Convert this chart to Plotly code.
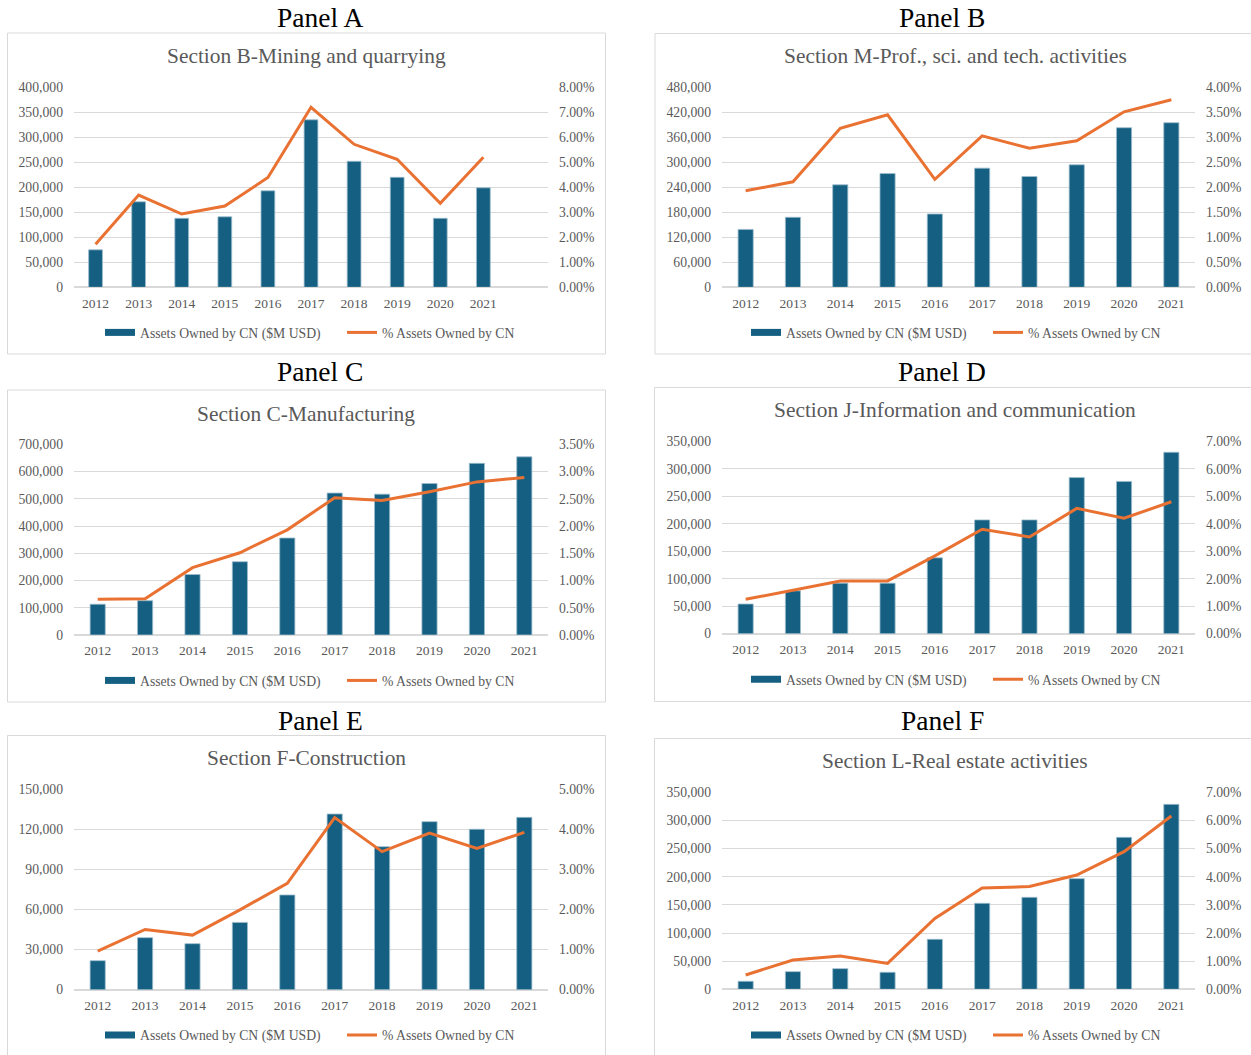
import plotly.graph_objects as go

W, H = 1251, 1055

# ---------------- data ----------------
years = [2012, 2013, 2014, 2015, 2016, 2017, 2018, 2019, 2020, 2021]

panel_labels = ["Panel A", "Panel B", "Panel C", "Panel D", "Panel E", "Panel F"]
chart_titles = [
    "Section B-Mining and quarrying",
    "Section M-Prof., sci. and tech. activities",
    "Section C-Manufacturing",
    "Section J-Information and communication",
    "Section F-Construction",
    "Section L-Real estate activities",
]
bar_name = "Assets Owned by CN ($M USD)"
line_name = "% Assets Owned by CN"

mining_assets = [75000, 171000, 138000, 141000, 193000, 335000, 252000, 220000, 138000, 199000]
mining_pct = [0.0172, 0.0369, 0.0293, 0.0325, 0.0439, 0.0720, 0.0572, 0.0512, 0.0336, 0.0520]

prof_assets = [139000, 168000, 246000, 273000, 176000, 286000, 266000, 294000, 383000, 395000]
prof_pct = [0.0193, 0.0211, 0.0318, 0.0345, 0.0216, 0.0303, 0.0278, 0.0293, 0.0351, 0.0375]

manuf_assets = [113000, 126000, 222000, 269000, 356000, 521000, 517000, 556000, 630000, 654000]
manuf_pct = [0.00655, 0.00667, 0.01236, 0.0151, 0.0193, 0.0252, 0.0247, 0.0263, 0.0281, 0.0289]

info_assets = [54000, 78000, 92000, 92000, 138000, 207000, 207000, 284000, 277000, 330000]
info_pct = [0.0125, 0.0159, 0.0192, 0.0192, 0.0283, 0.0380, 0.0352, 0.0456, 0.0420, 0.0480]

constr_assets = [21700, 38900, 34400, 50300, 70800, 131300, 106900, 125600, 119900, 128800]
constr_pct = [0.0096, 0.0150, 0.0136, 0.0199, 0.0265, 0.0429, 0.0344, 0.0390, 0.0352, 0.0392]

realest_assets = [14200, 31400, 36700, 30200, 88800, 152800, 163400, 196600, 270000, 328600]
realest_pct = [0.0051, 0.0104, 0.0118, 0.0092, 0.0252, 0.0360, 0.0365, 0.0406, 0.0489, 0.0616]

assets_series = [mining_assets, prof_assets, manuf_assets, info_assets, constr_assets, realest_assets]
pct_series = [mining_pct, prof_pct, manuf_pct, info_pct, constr_pct, realest_pct]

# axis ranges / tick steps (left: assets, right: percent)
left_max = [400000, 480000, 700000, 350000, 150000, 350000]
left_step = [50000, 60000, 100000, 50000, 30000, 50000]
right_max = [0.08, 0.04, 0.035, 0.07, 0.05, 0.07]
right_step = [0.01, 0.005, 0.005, 0.01, 0.01, 0.01]
x_slots_end = [2022.5, 2021.5, 2021.5, 2021.5, 2021.5, 2021.5]

# ---------------- layout geometry (pixels) ----------------
plot_px = [
    (74, 548, 87.3, 287.3),
    (722, 1195, 87.3, 287.3),
    (74, 548, 444.3, 635.0),
    (722, 1195, 441.3, 633.7),
    (74, 548, 789.0, 989.7),
    (722, 1195, 792.3, 989.3),
]
box_px = [
    (7.5, 33, 605.5, 354),
    (655, 33.5, 1258, 354),
    (7.5, 390, 605.5, 702),
    (654.5, 387.5, 1258, 701.5),
    (7.5, 735.5, 605.5, 1060),
    (654.5, 738.5, 1258, 1060),
]
panel_title_px = [(320, 17), (942, 17), (320, 371.5), (942, 371.5), (320, 720), (942, 720)]
chart_title_px = [(306, 56.5), (955, 56), (306, 414), (955, 410), (306, 757.5), (955, 761)]
legend_px = [(342, 332.5), (988, 332.5), (342, 680.5), (988, 679.3), (342, 1035), (988, 1035)]

FONT = "Liberation Serif"
GRAY = "#595959"
GRID = "#d9d9d9"
BAR_C = "#156082"
BAR_EDGE = "#9dbccd"
LINE_C = "#E97132"


def px(x):
    return x / W


def py(y):
    return 1 - y / H


fig = go.Figure()
layout = dict(
    width=W, height=H, margin=dict(l=0, r=0, t=0, b=0, autoexpand=False),
    paper_bgcolor="white", plot_bgcolor="white",
    font=dict(family=FONT, color=GRAY, size=13.5),
    showlegend=True,
)
shapes = []
annotations = []

for i in range(6):
    n = i + 1
    xa = "x" if n == 1 else f"x{n}"
    ya = f"y{2 * i + 1}" if i > 0 else "y"
    ya2 = f"y{2 * i + 2}"
    lg = "legend" if n == 1 else f"legend{n}"
    x0, x1, yt, yb = plot_px[i]

    fig.add_trace(go.Bar(
        x=years, y=assets_series[i], name=bar_name,
        marker=dict(color=BAR_C, line=dict(color=BAR_EDGE, width=0.8)),
        width=0.32, xaxis=xa, yaxis=ya, showlegend=False,
    ))
    # legend-only entry giving the wide Excel-style bar swatch
    fig.add_trace(go.Scatter(
        x=[None], y=[None], name=bar_name, mode="lines",
        line=dict(color=BAR_C, width=7), xaxis=xa, yaxis=ya, legend=lg,
    ))
    fig.add_trace(go.Scatter(
        x=years, y=pct_series[i], name=line_name, mode="lines",
        line=dict(color=LINE_C, width=3), xaxis=xa, yaxis=ya2, legend=lg,
    ))

    xkey = "xaxis" if n == 1 else f"xaxis{n}"
    ykey = "yaxis" if i == 0 else f"yaxis{2 * i + 1}"
    y2key = f"yaxis{2 * i + 2}"
    layout[xkey] = dict(
        domain=[px(x0), px(x1)], anchor=ya,
        range=[2011.5, x_slots_end[i]], tickvals=years, ticktext=[str(v) for v in years],
        showgrid=False, zeroline=False, showline=True, linecolor=GRID, linewidth=1,
        ticks="", ticklabelstandoff=3, tickfont=dict(size=13.5, color=GRAY, family=FONT),
        fixedrange=True,
    )
    layout[ykey] = dict(
        domain=[py(yb), py(yt)], anchor=xa,
        range=[0, left_max[i]], dtick=left_step[i], tick0=0, tickformat=",d",
        showgrid=True, gridcolor=GRID, gridwidth=1, zeroline=True, zerolinecolor=GRID,
        showline=False, ticks="", ticklabelstandoff=10,
        tickfont=dict(size=13.7, color=GRAY, family=FONT),
    )
    layout[y2key] = dict(
        domain=[py(yb), py(yt)], anchor=xa, overlaying=ya, side="right",
        range=[0, right_max[i]], dtick=right_step[i], tick0=0, tickformat=".2%",
        showgrid=False, zeroline=False, showline=False, ticks="", ticklabelstandoff=10,
        tickfont=dict(size=13.7, color=GRAY, family=FONT),
    )
    lx, ly = legend_px[i]
    layout[lg] = dict(
        orientation="h", x=px(lx), y=py(ly), xanchor="center", yanchor="middle",
        xref="paper", yref="paper", bgcolor="rgba(0,0,0,0)",
        font=dict(size=13.7, color=GRAY, family=FONT), entrywidth=197, entrywidthmode="pixels",
        itemwidth=30,
    )

    bx0, by0, bx1, by1 = box_px[i]
    shapes.append(dict(type="rect", xref="paper", yref="paper",
                       x0=px(bx0), x1=px(bx1), y0=py(by1), y1=py(by0),
                       line=dict(color=GRID, width=1), fillcolor="rgba(0,0,0,0)", layer="below"))

    tx, ty = panel_title_px[i]
    annotations.append(dict(text=panel_labels[i], x=px(tx), y=py(ty), xref="paper", yref="paper",
                            showarrow=False, xanchor="center", yanchor="middle",
                            font=dict(size=27.5, color="black", family=FONT)))
    cx, cy = chart_title_px[i]
    annotations.append(dict(text=chart_titles[i], x=px(cx), y=py(cy), xref="paper", yref="paper",
                            showarrow=False, xanchor="center", yanchor="middle",
                            font=dict(size=21.4, color=GRAY, family=FONT)))

layout["shapes"] = shapes
layout["annotations"] = annotations
fig.update_layout(**layout)

fig.write_html("out.html")
